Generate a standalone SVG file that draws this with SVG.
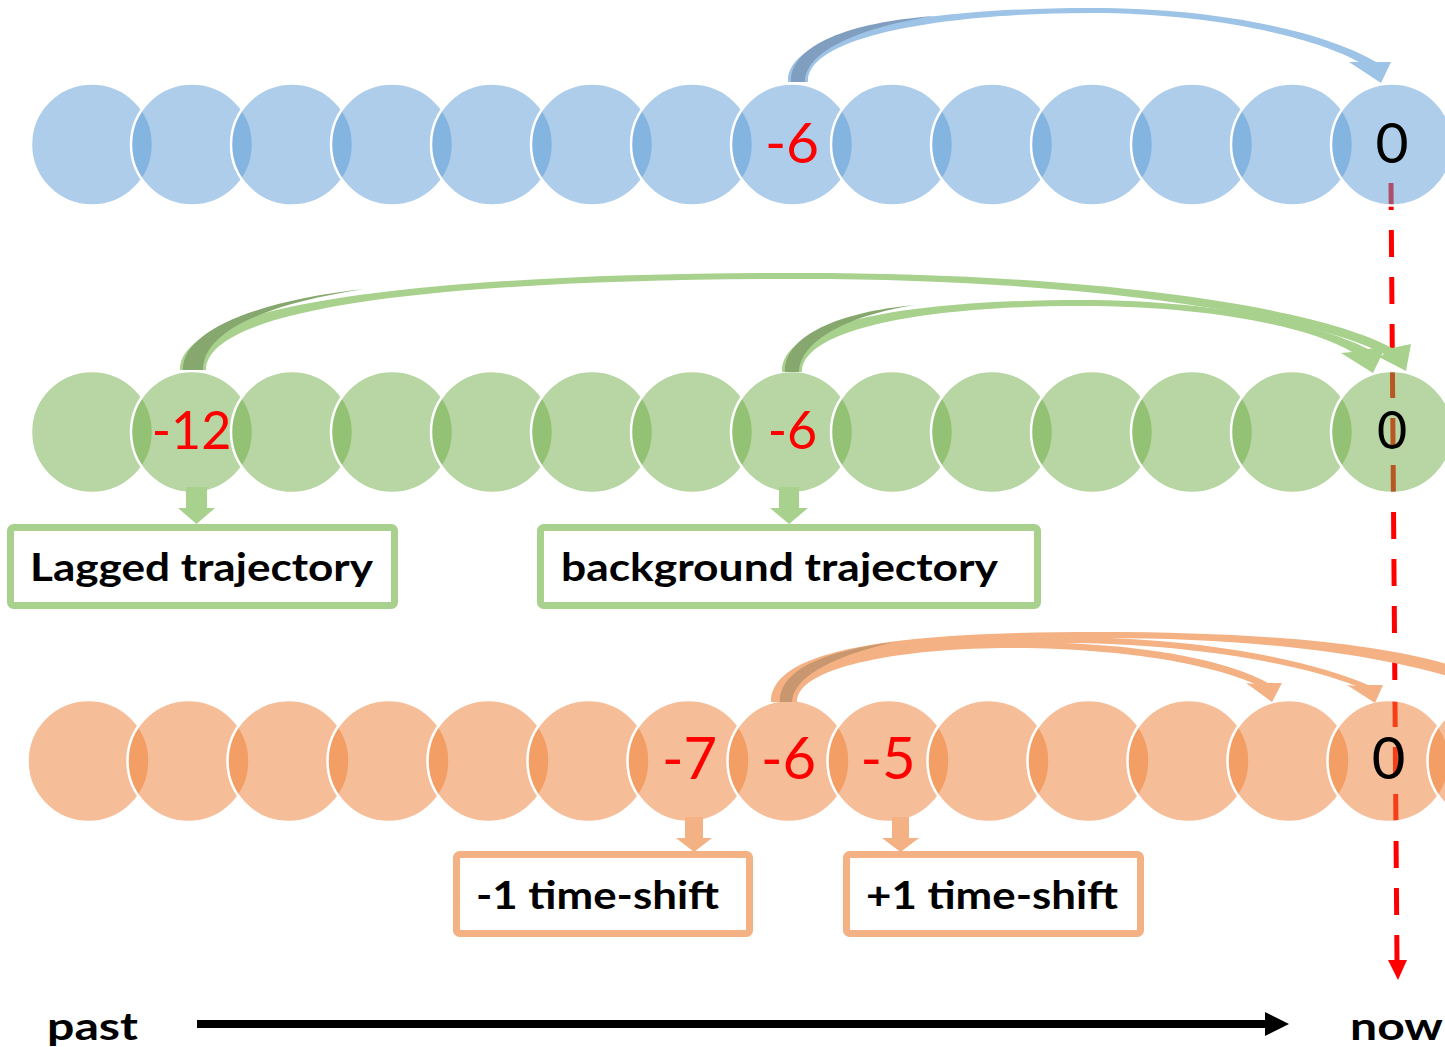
<svg xmlns="http://www.w3.org/2000/svg" width="1445" height="1047" viewBox="0 0 1445 1047">
<style>
.b{fill:#5B9BD5;fill-opacity:0.5;stroke:#fff;stroke-width:2.5}
.g{fill:#70AD47;fill-opacity:0.5;stroke:#fff;stroke-width:2.5}
.o{fill:#ED7D31;fill-opacity:0.5;stroke:#fff;stroke-width:2.5}
.num{font-family:Lato,"Open Sans","Liberation Sans",sans-serif;text-anchor:middle;fill:#FF0000}
.zero{fill:#000}
.lbl{font-family:Lato,"Open Sans","Liberation Sans",sans-serif;font-weight:bold;font-size:39px;fill:#000}
.gbox{fill:#fff;stroke:#A9D18E;stroke-width:7}
.obox{fill:#fff;stroke:#F4B183;stroke-width:7}
</style>
<rect width="1445" height="1047" fill="#fff"/>
<g id="now-line">
<path d="M1391,183 L1397,962" stroke="#FF0000" stroke-width="5" stroke-dasharray="27 20" fill="none"/>
<polygon points="1388,960 1407,960 1398,980" fill="#FF0000"/>
</g>
<g id="row-blue">
<circle class="b" cx="92" cy="144.5" r="61"/><circle class="b" cx="192" cy="144.5" r="61"/><circle class="b" cx="292" cy="144.5" r="61"/><circle class="b" cx="392" cy="144.5" r="61"/><circle class="b" cx="492" cy="144.5" r="61"/><circle class="b" cx="592" cy="144.5" r="61"/><circle class="b" cx="692" cy="144.5" r="61"/><circle class="b" cx="792" cy="144.5" r="61"/><circle class="b" cx="892" cy="144.5" r="61"/><circle class="b" cx="992" cy="144.5" r="61"/><circle class="b" cx="1092" cy="144.5" r="61"/><circle class="b" cx="1192" cy="144.5" r="61"/><circle class="b" cx="1292" cy="144.5" r="61"/><circle class="b" cx="1392" cy="144.5" r="61"/>
</g>
<g id="row-green">
<circle class="g" cx="92" cy="432" r="61"/><circle class="g" cx="192" cy="432" r="61"/><circle class="g" cx="292" cy="432" r="61"/><circle class="g" cx="392" cy="432" r="61"/><circle class="g" cx="492" cy="432" r="61"/><circle class="g" cx="592" cy="432" r="61"/><circle class="g" cx="692" cy="432" r="61"/><circle class="g" cx="792" cy="432" r="61"/><circle class="g" cx="892" cy="432" r="61"/><circle class="g" cx="992" cy="432" r="61"/><circle class="g" cx="1092" cy="432" r="61"/><circle class="g" cx="1192" cy="432" r="61"/><circle class="g" cx="1292" cy="432" r="61"/><circle class="g" cx="1392" cy="432" r="61"/>
</g>
<g id="row-orange">
<circle class="o" cx="88.5" cy="761" r="61"/><circle class="o" cx="188.5" cy="761" r="61"/><circle class="o" cx="288.5" cy="761" r="61"/><circle class="o" cx="388.5" cy="761" r="61"/><circle class="o" cx="488.5" cy="761" r="61"/><circle class="o" cx="588.5" cy="761" r="61"/><circle class="o" cx="688.5" cy="761" r="61"/><circle class="o" cx="788.5" cy="761" r="61"/><circle class="o" cx="888.5" cy="761" r="61"/><circle class="o" cx="988.5" cy="761" r="61"/><circle class="o" cx="1088.5" cy="761" r="61"/><circle class="o" cx="1188.5" cy="761" r="61"/><circle class="o" cx="1288.5" cy="761" r="61"/><circle class="o" cx="1388.5" cy="761" r="61"/><circle class="o" cx="1488.5" cy="761" r="61"/>
</g>
<g id="connectors">
<!-- blue curved arrow -6 -> 0 -->
<path d="M788,82 C786,30 930,8 1090,8 C1230,8 1330,35 1376,62 L1391,62 L1381,83 L1349,62 L1359,62 C1320,40 1220,13 1090,13 C950,13 806,35 808,82 Z" fill="#9DC3E6"/>
<path d="M791,82 C790,45 850,22 935,16 C865,26 805,50 805,82 Z" fill="#7F9EC0"/>
<!-- green A -12 -> 0 -->
<path d="M180,370 C178,300 450,273 800,273 C1100,273 1320,308 1392,348 L1411,344 L1406,371 L1379,357 L1384,354 C1315,318 1100,279 800,279 C460,279 206,305 206,370 Z" fill="#A9D18E"/>
<path d="M183,370 C182,330 260,300 365,289 C270,303 203,330 203,370 Z" fill="#86A86E"/>
<!-- green B -6 -> 0 -->
<path d="M782,372 C780,320 920,300 1080,300 C1220,300 1320,325 1368,349 L1386,346 L1373,373 L1341,353 L1352,352 C1310,327 1210,306 1080,306 C930,306 802,328 802,372 Z" fill="#A9D18E"/>
<path d="M785,372 C784,335 840,312 915,305 C850,315 800,340 799,372 Z" fill="#86A86E"/>
<!-- orange arcs from -6 -->
<path d="M771,702 C771,648 900,632 1100,632 C1270,632 1390,645 1460,668 L1460,680 C1390,657 1270,638 1100,638 C910,638 791,655 791,702 Z" fill="#F4B183"/>
<path d="M775,702 C775,655 900,637 1060,637 C1200,637 1310,660 1368,685 L1383,685 L1375,703 L1347,685 L1356,686 C1300,664 1190,643 1060,643 C910,643 795,660 795,702 Z" fill="#F4B183"/>
<path d="M777,702 C777,660 900,642 1010,642 C1150,642 1230,662 1268,683 L1282,683 L1272,702 L1246,683 L1255,684 C1215,666 1130,648 1010,648 C910,648 797,665 797,702 Z" fill="#F4B183"/>
<path d="M780,702 C779,668 830,650 895,642 C840,654 793,675 792,702 Z" fill="#C9976F"/>
<!-- down block arrows -->
<polygon points="186,487 207,487 207,508 215,508 196.5,524 178,508 186,508" fill="#A9D18E"/>
<polygon points="779,487 799,487 799,508 808,508 789,524 770,508 779,508" fill="#A9D18E"/>
<polygon points="685,817 703,817 703,838 712,838 694,852 676,838 685,838" fill="#F4B183"/>
<polygon points="892,817 909,817 909,838 919,838 900.5,852 882,838 892,838" fill="#F4B183"/>
<!-- time axis -->
<line x1="197" y1="1024" x2="1268" y2="1024" stroke="#000" stroke-width="8"/>
<polygon points="1265,1012 1289,1024 1265,1036" fill="#000"/>
</g>
<g id="labels-blue">
<text class="num" x="792" y="163" font-size="57">-6</text>
<text class="num zero" x="1392" y="163" font-size="57">0</text>
</g>
<g id="labels-green">
<text class="num" x="191.5" y="449" font-size="52">-12</text>
<text class="num" x="792.5" y="449" font-size="52">-6</text>
<text class="num zero" x="1392" y="449" font-size="52">0</text>
</g>
<g id="labels-orange">
<text class="num" x="689.5" y="779" font-size="58">-7</text>
<text class="num" x="788.5" y="779" font-size="58">-6</text>
<text class="num" x="888" y="779" font-size="58">-5</text>
<text class="num zero" x="1388.5" y="779" font-size="58">0</text>
</g>
<g id="box-lagged">
<rect class="gbox" x="10.5" y="527.5" width="384" height="78" rx="3"/>
<text class="lbl" x="30" y="581" textLength="343" lengthAdjust="spacingAndGlyphs">Lagged trajectory</text>
</g>
<g id="box-background">
<rect class="gbox" x="540.5" y="527.5" width="497" height="78" rx="3"/>
<text class="lbl" x="561" y="581" textLength="437" lengthAdjust="spacingAndGlyphs">background trajectory</text>
</g>
<g id="box-minus1">
<rect class="obox" x="456.5" y="854.5" width="293" height="79" rx="3"/>
<text class="lbl" x="476" y="909" textLength="243" lengthAdjust="spacingAndGlyphs">-1 time-shift</text>
</g>
<g id="box-plus1">
<rect class="obox" x="846.5" y="854.5" width="294" height="79" rx="3"/>
<text class="lbl" x="866" y="909" textLength="252" lengthAdjust="spacingAndGlyphs">+1 time-shift</text>
</g>
<g id="axis-labels">
<text class="lbl" x="47" y="1040" font-size="46" textLength="91" lengthAdjust="spacingAndGlyphs">past</text>
<text class="lbl" x="1350" y="1040" font-size="46" textLength="93" lengthAdjust="spacingAndGlyphs">now</text>
</g>
</svg>
